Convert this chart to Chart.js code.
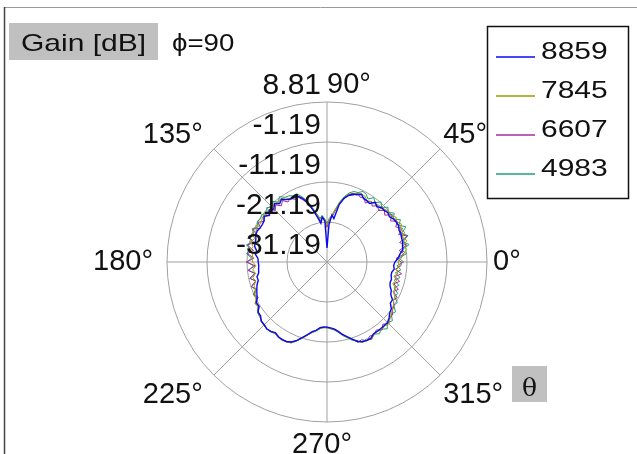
<!DOCTYPE html>
<html>
<head>
<meta charset="utf-8">
<script src="https://cdn.jsdelivr.net/npm/chart.js@4.4.0/dist/chart.umd.min.js"></script>
<style>
  html, body { margin: 0; padding: 0; background: #fff; }
  #wrap { width: 637px; height: 454px; position: relative; }
</style>
</head>
<body>
<div id="wrap"><canvas id="polar" width="637" height="454"></canvas></div>
<script>
// theta (deg, counter-clockwise from 0 at the right)
const THETA = [
  0, 3, 6, 9, 12, 15, 18, 21, 24, 27, 30, 33,
  36, 39, 42, 45, 48, 51, 54, 57, 60, 63, 66, 69,
  72, 75, 78, 81, 84, 87, 90, 93, 96, 99, 102, 105,
  108, 111, 114, 117, 120, 123, 126, 129, 132, 135, 138, 141,
  144, 147, 150, 153, 156, 159, 162, 165, 168, 171, 174, 177,
  180, 183, 186, 189, 192, 195, 198, 201, 204, 207, 210, 213,
  216, 219, 222, 225, 228, 231, 234, 237, 240, 243, 246, 249,
  252, 255, 258, 261, 264, 267, 270, 273, 276, 279, 282, 285,
  288, 291, 294, 297, 300, 303, 306, 309, 312, 315, 318, 321,
  324, 327, 330, 333, 336, 339, 342, 345, 348, 351, 354, 357
];

// gain in dB for each theta above
const G8859 = [
  -14.2,-13.4,-12.9,-12.0,-11.9,-11.6,-11.6,-11.4,-11.5,-11.1,-11.2,-11.4,
  -11.9,-11.6,-11.9,-12.0,-12.6,-12.0,-13.1,-12.9,-12.9,-12.2,-12.8,-13.0,
  -13.7,-14.7,-16.5,-20.2,-19.4,-21.9,-27.7,-20.9,-19.9,-21.4,-19.7,-17.7,
  -15.7,-14.2,-13.2,-13.1,-13.0,-12.6,-11.8,-12.4,-11.6,-12.4,-11.8,-12.6,
  -11.8,-12.4,-12.5,-12.4,-12.1,-12.1,-12.5,-12.6,-12.7,-13.4,-13.2,-13.9,
  -14.0,-14.1,-14.0,-13.9,-13.3,-13.4,-12.8,-12.4,-12.0,-11.6,-10.8,-10.9,
  -9.9,-9.8,-9.1,-9.0,-8.7,-8.9,-9.3,-8.9,-8.8,-8.9,-9.3,-10.2,
  -11.4,-12.4,-13.4,-13.9,-14.7,-14.9,-14.9,-14.7,-14.4,-13.7,-12.7,-11.9,
  -10.9,-9.9,-9.4,-9.2,-9.2,-9.8,-9.8,-9.8,-9.8,-9.8,-10.3,-11.0,
  -11.3,-12.3,-12.3,-13.3,-13.6,-14.3,-14.6,-14.5,-14.8,-14.8,-14.3,-14.5
];
const G7845 = [
  -13.4,-12.6,-12.0,-11.0,-11.7,-10.5,-11.4,-10.4,-11.2,-10.3,-11.1,-10.6,
  -11.5,-11.3,-11.6,-11.9,-12.0,-12.4,-12.5,-12.9,-12.2,-12.1,-12.5,-12.8,
  -13.3,-14.5,-16.0,-18.0,-19.6,-20.5,-22.0,-20.6,-19.8,-20.4,-19.2,-17.5,
  -15.4,-14.0,-13.0,-12.6,-12.9,-12.1,-11.6,-12.0,-11.4,-12.0,-11.6,-12.1,
  -11.5,-11.8,-12.0,-11.3,-11.9,-11.1,-12.2,-11.4,-12.3,-11.9,-12.5,-12.4,
  -12.6,-13.4,-12.5,-13.1,-12.2,-12.8,-12.0,-12.1,-11.5,-11.3,-10.6,-10.6,
  -9.8,-9.6,-9.1,-8.9,-8.6,-8.9,-9.0,-8.8,-8.6,-8.8,-9.1,-10.0,
  -11.2,-12.2,-13.2,-13.8,-14.5,-14.7,-14.8,-14.6,-14.3,-13.5,-12.5,-11.7,
  -10.8,-9.8,-9.3,-9.1,-9.0,-9.5,-9.7,-9.5,-9.6,-9.4,-10.0,-10.5,
  -11.0,-11.4,-12.0,-12.1,-13.1,-12.8,-13.9,-13.1,-14.1,-13.2,-13.7,-13.1
];
const G6607 = [
  -12.6,-13.9,-11.8,-12.9,-10.8,-12.4,-10.1,-12.0,-10.5,-11.9,-10.9,-12.3,
  -11.0,-12.6,-11.9,-13.0,-12.2,-13.2,-12.4,-13.6,-12.6,-13.0,-12.3,-13.4,
  -13.5,-14.8,-16.4,-18.3,-20.0,-20.8,-22.5,-21.0,-19.9,-20.8,-19.5,-17.9,
  -15.8,-14.6,-13.4,-13.6,-12.8,-13.3,-12.2,-13.1,-12.0,-12.9,-11.8,-12.8,
  -11.6,-12.5,-11.3,-12.6,-10.9,-12.4,-10.6,-12.3,-10.8,-12.6,-11.2,-12.9,
  -11.0,-13.2,-11.3,-12.9,-11.4,-12.8,-11.3,-12.3,-11.2,-11.9,-10.5,-11.0,
  -9.9,-9.8,-9.0,-9.1,-8.6,-8.9,-9.3,-8.8,-8.9,-8.7,-9.3,-10.1,
  -11.3,-12.3,-13.3,-13.9,-14.6,-14.8,-14.9,-14.5,-14.2,-13.6,-12.6,-11.8,
  -11.0,-9.7,-9.9,-9.1,-9.8,-9.5,-10.2,-9.3,-10.3,-9.3,-10.2,-10.1,
  -10.9,-11.2,-12.0,-11.5,-13.0,-12.1,-13.6,-12.4,-13.8,-12.3,-14.0,-12.7
];
const G4983 = [
  -12.0,-13.2,-11.2,-12.3,-10.2,-11.6,-9.9,-11.2,-9.6,-11.0,-10.0,-11.5,
  -10.4,-11.5,-10.7,-11.9,-11.0,-12.1,-11.3,-12.4,-11.6,-11.4,-12.2,-12.3,
  -13.0,-14.2,-15.8,-17.8,-19.4,-20.3,-21.6,-20.4,-19.5,-20.1,-18.9,-17.1,
  -15.1,-13.7,-12.5,-12.6,-12.1,-11.9,-11.0,-11.9,-10.8,-11.8,-10.9,-11.9,
  -11.0,-11.4,-11.0,-11.9,-10.7,-11.6,-10.5,-11.8,-10.6,-12.0,-10.9,-12.3,
  -11.2,-12.8,-11.5,-13.0,-11.6,-12.7,-11.3,-12.0,-11.0,-11.5,-10.4,-10.7,
  -9.7,-9.5,-9.2,-8.8,-8.7,-8.7,-9.1,-8.7,-8.8,-8.9,-9.0,-10.1,
  -11.1,-12.3,-13.1,-13.7,-14.4,-14.8,-14.7,-14.5,-14.1,-13.4,-12.4,-11.6,
  -10.6,-10.2,-9.1,-9.6,-8.8,-9.7,-9.0,-9.6,-8.7,-9.8,-9.2,-10.5,
  -10.0,-11.3,-10.9,-12.2,-11.8,-13.2,-12.3,-13.8,-12.5,-13.9,-12.6,-13.7
];

const SERIES_NAMES = ['8859', '7845', '6607', '4983'];
const SERIES_DATA = [G8859, G7845, G6607, G4983];
const SERIES_COLORS = ['#0a0af0', '#a09a00', '#a02ea0', '#20a070'];

const R_MIN = -31.19;
const R_MAX = 8.81;
const R_STEP = 10;
const ANGLE_TICKS = [0, 45, 90, 135, 180, 225, 270, 315];

// radar goes clockwise, the plot goes counter-clockwise: flip the order
const order = THETA.map((_, i) => (THETA.length - i) % THETA.length);
const labels = order.map(k => THETA[k]);

const GRID = '#a0a0a0';
const TEXT = '#111';
const BIG_FONT = '29px "Liberation Sans", Arial, sans-serif';
const TICK_FONT = '30px "Liberation Sans", Arial, sans-serif';
const SMALL_FONT = '24px "Liberation Sans", Arial, sans-serif';

function wideText(ctx, text, x, y, sx) {
  ctx.save();
  ctx.translate(x, y);
  ctx.scale(sx, 1);
  ctx.fillText(text, 0, 0);
  ctx.restore();
}

const decor = {
  id: 'decor',
  beforeDraw(chart) {
    const ctx = chart.ctx;
    ctx.save();
    ctx.strokeStyle = '#999';
    ctx.lineWidth = 1;
    ctx.beginPath();
    ctx.moveTo(4, 7.5); ctx.lineTo(637, 7.5);
    ctx.stroke();
    ctx.strokeStyle = '#444';
    ctx.lineWidth = 1.5;
    ctx.beginPath();
    ctx.moveTo(4.5, 7); ctx.lineTo(4.5, 454);
    ctx.stroke();
    ctx.restore();
  },
  afterDraw(chart) {
    const ctx = chart.ctx;
    const r = chart.scales.r;
    ctx.save();
    ctx.fillStyle = TEXT;

    // radial tick labels, left of the vertical axis
    ctx.font = TICK_FONT;
    ctx.textAlign = 'right';
    ctx.textBaseline = 'alphabetic';
    r.ticks.forEach(t => {
      const d = r.getDistanceFromCenterForValue(t.value);
      ctx.fillText(t.value.toFixed(2), r.xCenter - 6, r.yCenter - d - 8);
    });

    // angle labels
    ctx.font = BIG_FONT;
    ANGLE_TICKS.forEach(deg => {
      const idx = labels.indexOf(deg);
      const p = r.getPointPosition(idx, r.drawingArea + 10);
      const a = deg * Math.PI / 180;
      const c = Math.cos(a), s = Math.sin(a);
      let x = p.x, y = p.y;
      if (c > 0.1) { ctx.textAlign = 'left'; x -= 4; }
      else if (c < -0.1) { ctx.textAlign = 'right'; x -= 4; }
      else if (s > 0) { ctx.textAlign = 'left'; }
      else { ctx.textAlign = 'center'; x -= 5; }
      if (s > 0.1) { ctx.textBaseline = 'alphabetic'; y += 1; }
      else if (s < -0.1) { ctx.textBaseline = 'top'; y -= 2; }
      else { ctx.textBaseline = 'middle'; }
      ctx.fillText(deg + '\u00B0', x, y);
    });

    // title boxes
    ctx.textAlign = 'left';
    ctx.textBaseline = 'alphabetic';
    ctx.fillStyle = '#c0c0c0';
    ctx.fillRect(9, 23, 149, 37);
    ctx.fillRect(512, 366, 35, 36);
    ctx.fillStyle = TEXT;
    ctx.font = SMALL_FONT;
    wideText(ctx, 'Gain [dB]', 21, 51, 1.25);
    wideText(ctx, '\u03D5=90', 172, 51, 1.15);
    ctx.textAlign = 'center';
    ctx.font = '25px "DejaVu Serif", "Liberation Serif", serif';
    ctx.fillText('\u03B8', 529.5, 396);

    // legend
    ctx.strokeStyle = '#111';
    ctx.lineWidth = 1.5;
    ctx.strokeRect(487.5, 26.5, 141, 172);
    ctx.font = SMALL_FONT;
    ctx.textAlign = 'left';
    chart.data.datasets.forEach((ds, i) => {
      const y = 57 + i * 39;
      ctx.strokeStyle = ds.borderColor;
      ctx.lineWidth = 1.5;
      ctx.beginPath();
      ctx.moveTo(496, y); ctx.lineTo(535, y);
      ctx.stroke();
      ctx.fillStyle = TEXT;
      wideText(ctx, ds.label, 541, y + 2, 1.25);
    });
    ctx.restore();
  }
};

new Chart(document.getElementById('polar'), {
  type: 'radar',
  data: {
    labels,
    datasets: SERIES_NAMES.map((name, i) => ({
      label: name,
      data: order.map(k => SERIES_DATA[i][k]),
      borderColor: SERIES_COLORS[i],
      backgroundColor: SERIES_COLORS[i],
      borderWidth: i === 0 ? 1.4 : 1,
      fill: false,
      pointRadius: 0,
      pointHoverRadius: 0,
      tension: 0
    }))
  },
  options: {
    responsive: false,
    animation: false,
    devicePixelRatio: 1,
    layout: { padding: { left: 167, right: 150, top: 102, bottom: 32 } },
    plugins: {
      legend: { display: false },
      tooltip: { enabled: false }
    },
    scales: {
      r: {
        min: R_MIN,
        max: R_MAX,
        startAngle: 90,
        ticks: { stepSize: R_STEP, display: false },
        pointLabels: { display: false },
        grid: { circular: true, color: GRID, lineWidth: 1 },
        angleLines: {
          color: GRID,
          lineWidth: ctx => ANGLE_TICKS.includes(labels[ctx.index]) ? 1 : 0
        }
      }
    }
  },
  plugins: [decor]
});
</script>
</body>
</html>
